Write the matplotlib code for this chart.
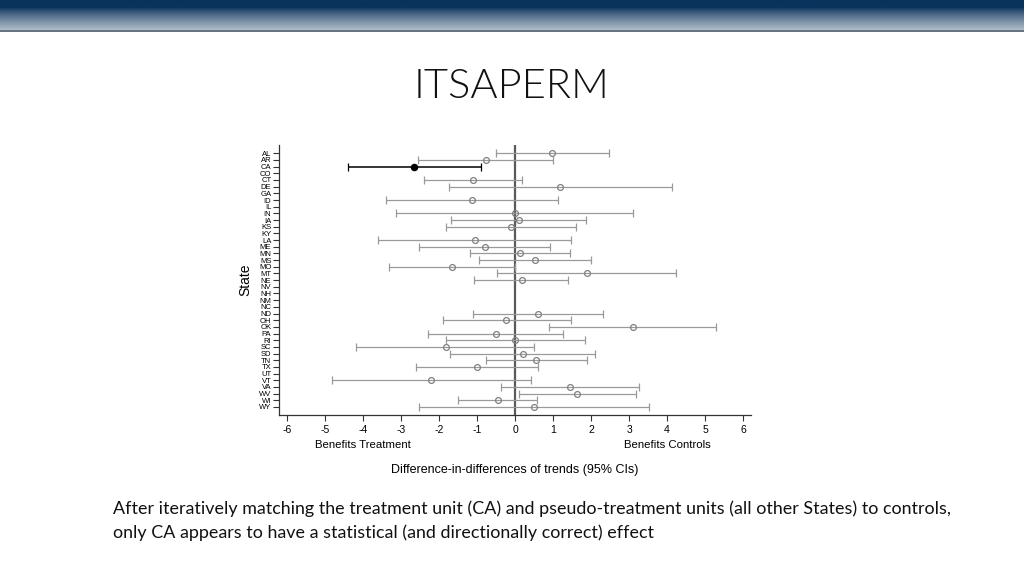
import numpy as np
import matplotlib
matplotlib.use('Agg')
import matplotlib.pyplot as plt

# states in display order (top to bottom)
states = ['AL', 'AR', 'CA', 'CO', 'CT', 'DE', 'GA', 'ID', 'IL', 'IN', 'IA', 'KS', 'KY',
          'LA', 'ME', 'MN', 'MS', 'MO', 'MT', 'NE', 'NV', 'NH', 'NM', 'NC', 'ND', 'OH',
          'OK', 'PA', 'RI', 'SC', 'SD', 'TN', 'TX', 'UT', 'VT', 'VA', 'WV', 'WI', 'WY']

nan = np.nan
estimate = [0.98, -0.76, -2.65, nan, -1.10, 1.18, nan, -1.12, nan, 0.0, 0.11, -0.10, nan,
            -1.05, -0.80, 0.13, 0.53, -1.66, 1.89, 0.17, nan, nan, nan, nan, 0.61, -0.23,
            3.11, -0.51, 0.01, -1.82, 0.20, 0.55, -1.00, nan, -2.20, 1.44, 1.64, -0.46, 0.49]
ci_low = [-0.51, -2.54, -4.39, nan, -2.39, -1.75, nan, -3.39, nan, -3.12, -1.68, -1.81, nan,
          -3.60, -2.52, -1.19, -0.94, -3.32, -0.47, -1.08, nan, nan, nan, nan, -1.10, -1.90,
          0.90, -2.28, -1.82, -4.18, -1.71, -0.77, -2.60, nan, -4.82, -0.36, 0.10, -1.49, -2.53]
ci_high = [2.48, 1.01, -0.89, nan, 0.19, 4.14, nan, 1.14, nan, 3.11, 1.88, 1.61, nan,
           1.48, 0.93, 1.45, 2.01, 0.0, 4.23, 1.40, nan, nan, nan, nan, 2.31, 1.46,
           5.30, 1.27, 1.84, 0.51, 2.11, 1.89, 0.60, nan, 0.42, 3.25, 3.19, 0.59, 3.53]
treated = 'CA'

xticks = [-6, -5, -4, -3, -2, -1, 0, 1, 2, 3, 4, 5, 6]

fig = plt.figure(figsize=(10.24, 5.76), dpi=100)
fig.patch.set_facecolor('white')

# header gradient band
hdr = fig.add_axes([0, 1 - 30 / 576, 1, 30 / 576])
grad = np.linspace(0, 1, 100).reshape(-1, 1)
top_c = np.array([0x0a, 0x33, 0x5c]) / 255
bot_c = np.array([0xae, 0xbc, 0xc8]) / 255
w = np.clip((grad - 0.25) / 0.75, 0, 1) ** 0.8
img = top_c * (1 - w) + bot_c * w
hdr.imshow(img.reshape(100, 1, 3), aspect='auto', extent=[0, 1, 0, 1])
hdr.axis('off')
fig.add_artist(plt.Line2D([0, 1], [1 - 30.5 / 576] * 2, color='#4a5a68', lw=1.2))

fig.text(0.5, 1 - 86 / 576, 'ITSAPERM', ha='center', va='center', fontsize=30,
         family='Lato', fontweight=300, color='#111111')

fig.text(113 / 1024, 1 - 509 / 576,
         'After iteratively matching the treatment unit (CA) and pseudo-treatment units '
         '(all other States) to controls,', ha='left', va='center', fontsize=12.85,
         family='Lato', color='#111111')
fig.text(113 / 1024, 1 - 533 / 576,
         'only CA appears to have a statistical (and directionally correct) effect',
         ha='left', va='center', fontsize=12.85, family='Lato', color='#111111')

ax = fig.add_axes([279 / 1024, 1 - 415 / 576, (750.7 - 279) / 1024, 270 / 576])
y = np.arange(len(states))
for i, s in enumerate(states):
    if np.isnan(ci_low[i]):
        continue
    if s == treated:
        col, mfc, lw = 'black', 'black', 1.1
    else:
        col, mfc, lw = '#9a9a9a', 'none', 0.9
    ax.errorbar(estimate[i], y[i], xerr=[[estimate[i] - ci_low[i]], [ci_high[i] - estimate[i]]],
                fmt='o', color=col, ecolor=col, elinewidth=lw, capsize=3, capthick=lw,
                ms=4.5 if s == treated else 4.2, mfc=mfc,
                mec='black' if s == treated else '#808080', mew=0.9, zorder=3)

ax.axvline(0, color='#5a5a5a', lw=1.6, zorder=2)
ax.set_xlim(-6.21, 6.20)
ax.set_ylim(39.2, -1.24)
ax.set_yticks(y)
ax.set_yticklabels(states, fontsize=5.5, family='Liberation Sans')
ax.set_xticks(xticks)
ax.set_xticklabels([str(t) for t in xticks], fontsize=7.5, family='Liberation Sans')
ax.tick_params(axis='y', length=4, width=0.8, pad=1.5, color='#333333')
ax.tick_params(axis='x', length=4, width=0.8, pad=3, color='#333333')
for sp in ['top', 'right']:
    ax.spines[sp].set_visible(False)
for sp in ['left', 'bottom']:
    ax.spines[sp].set_color('#333333')
    ax.spines[sp].set_linewidth(0.9)

ax.set_ylabel('State', fontsize=10, family='Liberation Sans', labelpad=5)
ax.text(-4, -0.11, 'Benefits Treatment', transform=ax.get_xaxis_transform(),
        ha='center', va='center', fontsize=8.2, family='Liberation Sans')
ax.text(4, -0.11, 'Benefits Controls', transform=ax.get_xaxis_transform(),
        ha='center', va='center', fontsize=8.2, family='Liberation Sans')
ax.text(0, -0.205, 'Difference-in-differences of trends (95% CIs)',
        transform=ax.get_xaxis_transform(), ha='center', va='center', fontsize=9,
        family='Liberation Sans')

fig.savefig('out.png', dpi=100, facecolor='white')
